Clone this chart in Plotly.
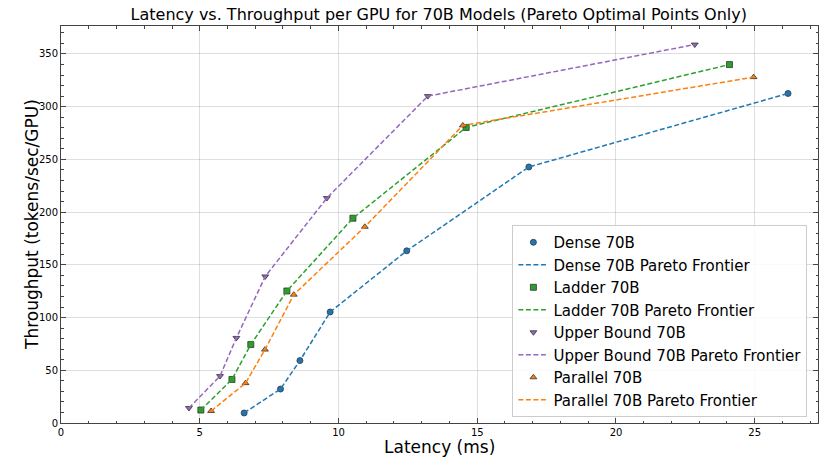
import plotly.graph_objects as go

# Pareto optimal points (latency ms, throughput tokens/sec/GPU)
dense_latency = [6.60, 7.91, 8.61, 9.70, 12.46, 16.86, 26.20]
dense_throughput = [9.5, 32.2, 59.2, 105.3, 163.3, 242.8, 312.5]

ladder_latency = [5.04, 6.16, 6.84, 8.14, 10.52, 14.60, 24.09]
ladder_throughput = [12.3, 41.3, 74.4, 125.2, 194.2, 280.3, 339.9]

upper_latency = [4.61, 5.73, 6.32, 7.36, 9.58, 13.22, 22.84]
upper_throughput = [14.2, 44.5, 80.7, 139.0, 213.3, 310.0, 358.9]

parallel_latency = [5.41, 6.65, 7.35, 8.39, 10.95, 14.48, 24.96]
parallel_throughput = [11.4, 37.8, 69.6, 121.7, 186.1, 282.2, 328.0]

series = [
    ('Dense 70B', dense_latency, dense_throughput, '#1f77b4', 'circle'),
    ('Ladder 70B', ladder_latency, ladder_throughput, '#2ca02c', 'square'),
    ('Upper Bound 70B', upper_latency, upper_throughput, '#9467bd', 'triangle-down'),
    ('Parallel 70B', parallel_latency, parallel_throughput, '#ff7f0e', 'triangle-up'),
]

fig = go.Figure()

for name, lat, thr, color, symbol in series:
    fig.add_trace(go.Scatter(
        x=lat, y=thr,
        mode='markers',
        name=name,
        marker={'color': color, 'symbol': symbol, 'size': 6,
                'line': {'color': '#333333', 'width': 0.8}},
    ))
    fig.add_trace(go.Scatter(
        x=lat, y=thr,
        mode='lines',
        name=f'{name} Pareto Frontier',
        line={'color': color, 'width': 1.5, 'dash': '5px,2.5px'},
    ))

axis_style = dict(
    showline=True,
    linecolor='#444444',
    linewidth=1,
    mirror='ticks',
    ticks='inside',
    ticklen=5,
    tickwidth=1,
    tickcolor='#444444',
    showgrid=True,
    gridcolor='rgba(0,0,0,0.13)',
    gridwidth=0.8,
    zeroline=False,
    automargin=False,
    tickfont={'size': 10, 'color': 'black'},
)

fig.update_xaxes(
    **axis_style,
    range=[0, 27.28],
    dtick=5,
    minor={'ticks': 'inside', 'dtick': 1, 'ticklen': 2.5, 'tickcolor': '#444444'},
)
fig.update_yaxes(
    **axis_style,
    range=[0, 376.5],
    dtick=50,
    minor={'ticks': 'inside', 'dtick': 10, 'ticklen': 2.5, 'tickcolor': '#444444'},
)

# axis titles placed as annotations for exact positioning
fig.add_annotation(
    text='Latency (ms)', xref='paper', yref='paper',
    x=0.5, y=-0.061, xanchor='center', yanchor='middle',
    showarrow=False, font={'size': 17, 'color': 'black'},
)
fig.add_annotation(
    text='Throughput (tokens/sec/GPU)', xref='paper', yref='paper',
    x=-0.039, y=0.5, xanchor='center', yanchor='middle', textangle=-90,
    showarrow=False, font={'size': 17, 'color': 'black'},
)

fig.update_layout(
    width=831,
    height=463,
    margin={'l': 61, 'r': 13, 't': 26, 'b': 40},
    paper_bgcolor='white',
    plot_bgcolor='white',
    font={'family': 'DejaVu Sans', 'color': 'black'},
    title={
        'text': 'Latency vs. Throughput per GPU for 70B Models (Pareto Optimal Points Only)',
        'font': {'size': 16, 'color': 'black'},
        'x': 0.528, 'xanchor': 'center',
        'y': 0.968, 'yanchor': 'middle',
        'automargin': False,
    },
    legend={
        'x': 0.986, 'y': 0.015,
        'xanchor': 'right', 'yanchor': 'bottom',
        'bgcolor': 'rgba(255,255,255,0.85)',
        'bordercolor': '#cccccc',
        'borderwidth': 1,
        'font': {'size': 15, 'color': 'black'},
        'tracegroupgap': 0,
        'itemwidth': 30,
    },
)

# drop the default page margin so the figure sits at the window's corner
fig.write_html('out.html', config={'displayModeBar': False},
               post_script="document.body.style.margin = '0';")
